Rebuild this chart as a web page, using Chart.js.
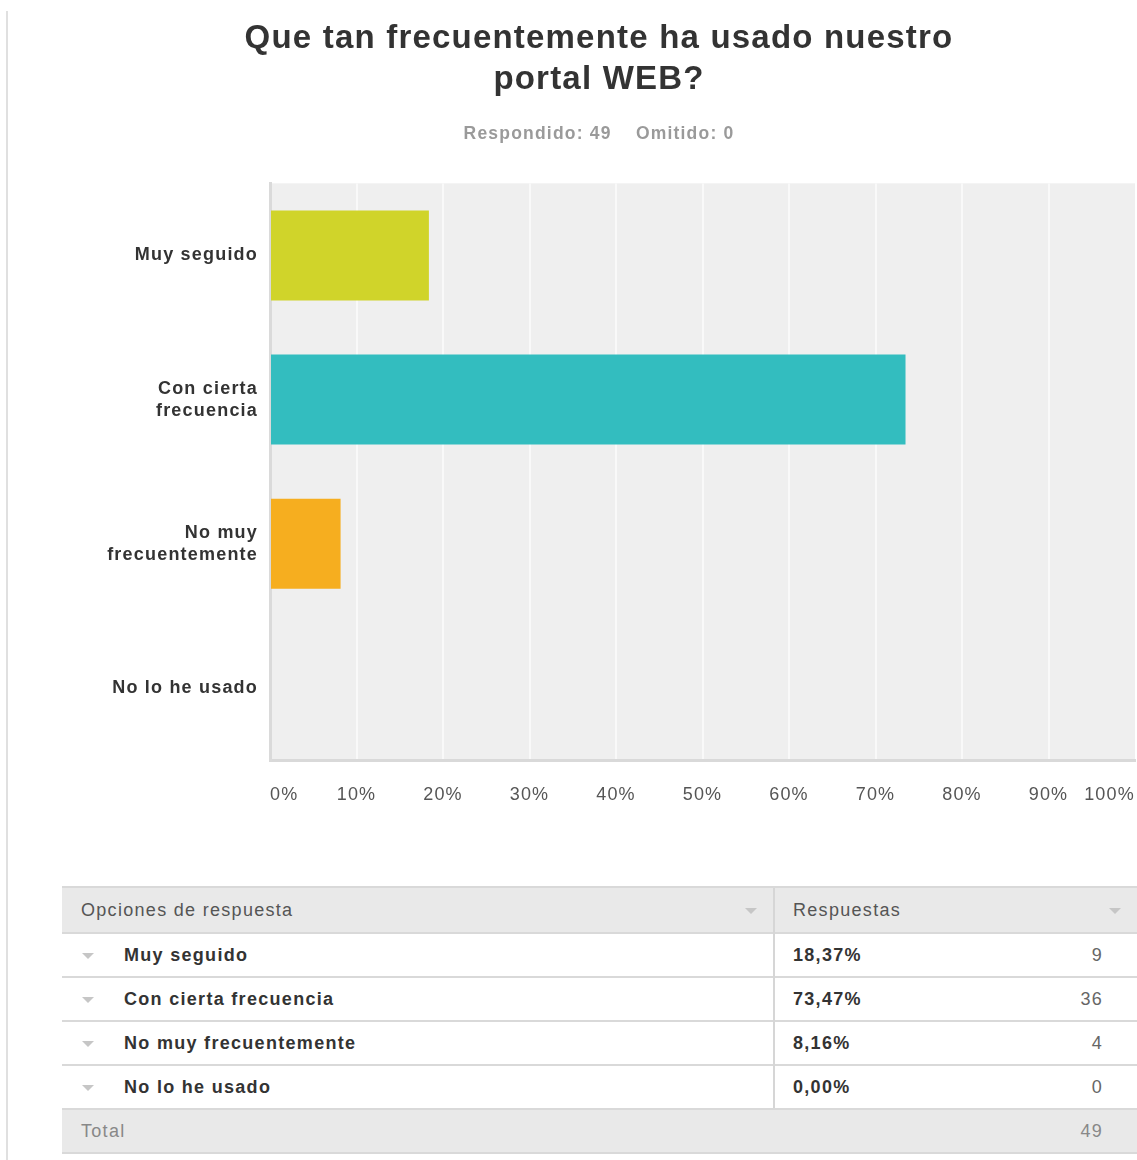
<!DOCTYPE html>
<html>
<head>
<meta charset="utf-8">
<title>Que tan frecuentemente ha usado nuestro portal WEB?</title>
<script src="https://cdn.jsdelivr.net/npm/chart.js@4.4.0/dist/chart.umd.min.js"></script>
<style>
  body {
    margin: 0;
    width: 1137px;
    height: 1160px;
    overflow: hidden;
    background: #fff;
    position: relative;
    font-family: "Liberation Sans", Arial, sans-serif;
  }
  .page-edge { position: absolute; left: 6px; top: 11px; bottom: 0; width: 2px; background: #e0e0e0; }
  #chartBox { position: absolute; left: 63px; top: 0; width: 1074px; height: 810px; }
  #results { position: absolute; left: 62px; top: 886px; width: 1075px; height: 268px; font-size: 18px; letter-spacing: 1.3px; }
  .row { position: absolute; left: 0; right: 0; box-sizing: border-box; border-top: 2px solid #d9d9d9; }
  .row span { position: absolute; top: 0; white-space: nowrap; }
  .head { background: #e9e9e9; color: #555; }
  .total { background: #e9e9e9; color: #888; border-bottom: 2px solid #d9d9d9; }
  .name { font-weight: bold; color: #333; }
  .pct { font-weight: bold; color: #333; }
  .num { color: #666; }
  .arrow { width: 0; height: 0; border-left: 6px solid transparent; border-right: 6px solid transparent; border-top: 6px solid #c6c6c6; }
  .divider { position: absolute; left: 711px; top: 2px; width: 2px; height: 220px; background: #d6d6d6; }
</style>
</head>
<body>
<div class="page-edge"></div>
<div id="chartBox"><canvas id="chart" width="1074" height="810"></canvas></div>
<div id="results"></div>

<script>
// survey question results
const answerOptions = ['Muy seguido', 'Con cierta frecuencia', 'No muy frecuentemente', 'No lo he usado'];
const axisLabels = [['Muy seguido'], ['Con cierta', 'frecuencia'], ['No muy', 'frecuentemente'], ['No lo he usado']];
const responsePercent = [18.37, 73.47, 8.16, 0.00];
const responseCount = [9, 36, 4, 0];
const barColors = ['#d0d42a', '#33bdbf', '#f6ae1f', '#ee6c2e'];
const answered = 49;
const skipped = 0;
const tickStep = 10;

const plotBackground = {
  id: 'plotBackground',
  beforeDraw(chart) {
    const { ctx, chartArea: a } = chart;
    ctx.save();
    ctx.fillStyle = '#efefef';
    ctx.fillRect(a.left, a.top, a.width, a.height);
    ctx.restore();
    ctx.letterSpacing = '1.2px';
  }
};

new Chart(document.getElementById('chart'), {
  type: 'bar',
  data: {
    labels: axisLabels,
    datasets: [{
      data: responsePercent,
      backgroundColor: barColors,
      borderWidth: 0,
      barPercentage: 0.624,
      categoryPercentage: 1
    }]
  },
  options: {
    indexAxis: 'y',
    responsive: false,
    animation: false,
    devicePixelRatio: 1,
    layout: { autoPadding: false, padding: { left: 0, right: 2, top: 0, bottom: 0 } },
    plugins: {
      legend: { display: false },
      tooltip: { enabled: false },
      title: {
        display: true,
        text: ['Que tan frecuentemente ha usado nuestro', 'portal WEB?'],
        color: '#333',
        font: { family: '"Liberation Sans", Arial, sans-serif', size: 33, weight: 'bold', lineHeight: 41 / 33 },
        padding: { top: 18.5, bottom: 24 }
      },
      subtitle: {
        display: true,
        text: 'Respondido: ' + answered + '    Omitido: ' + skipped,
        color: '#9a9a9a',
        font: { family: '"Liberation Sans", Arial, sans-serif', size: 17.5, weight: 'bold', lineHeight: 1.1 },
        padding: { top: 0, bottom: 39.6 }
      }
    },
    scales: {
      x: {
        min: 0,
        max: 100,
        afterFit: s => {
          s.height = 50;
          // end labels sit inside the axis, so no side room is needed
          s.paddingLeft = 0;
          s.paddingRight = 0;
        },
        ticks: {
          stepSize: tickStep,
          align: 'inner',
          padding: 24,
          color: '#555',
          font: { family: '"Liberation Sans", Arial, sans-serif', size: 18 },
          callback: v => v + '%'
        },
        grid: {
          drawTicks: false,
          lineWidth: 2,
          color: c => (c.index === 0 || c.index === 100 / tickStep) ? 'rgba(0,0,0,0)' : '#f9f9f9'
        },
        border: { color: '#d9d9d9', width: 3 }
      },
      y: {
        afterFit: s => { s.width = 207; },
        ticks: {
          padding: 4,
          color: '#333',
          font: { family: '"Liberation Sans", Arial, sans-serif', size: 18, weight: 'bold', lineHeight: 22 / 18 }
        },
        grid: { display: false },
        border: { color: '#dadada', width: 3 }
      }
    }
  },
  plugins: [plotBackground]
});

// answer table under the chart
const results = document.getElementById('results');
const fmt = v => v.toFixed(2).replace('.', ',') + '%';

function addRow(cls, top, height, cells) {
  const row = document.createElement('div');
  row.className = 'row ' + cls;
  row.style.top = top + 'px';
  row.style.height = height + 'px';
  cells.forEach(c => {
    const s = document.createElement('span');
    if (c.cls) s.className = c.cls;
    if (c.text !== undefined) s.textContent = c.text;
    Object.assign(s.style, c.style);
    row.appendChild(s);
  });
  results.appendChild(row);
}

const lh = h => ({ lineHeight: h + 'px' });
addRow('head', 0, 46, [
  { text: 'Opciones de respuesta', style: { left: '19px', ...lh(44) } },
  { cls: 'arrow', style: { left: '683px', top: '20px' } },
  { text: 'Respuestas', style: { left: '731px', ...lh(44) } },
  { cls: 'arrow', style: { left: '1047px', top: '20px' } }
]);
answerOptions.forEach((name, i) => {
  addRow('', 46 + i * 44, 44, [
    { cls: 'arrow', style: { left: '20px', top: '19px' } },
    { cls: 'name', text: name, style: { left: '62px', ...lh(42) } },
    { cls: 'pct', text: fmt(responsePercent[i]), style: { left: '731px', ...lh(42) } },
    { cls: 'num', text: String(responseCount[i]), style: { right: '34px', ...lh(42) } }
  ]);
});
addRow('total', 222, 46, [
  { text: 'Total', style: { left: '19px', ...lh(42) } },
  { text: String(responseCount.reduce((a, b) => a + b, 0)), style: { right: '34px', ...lh(42) } }
]);
const divider = document.createElement('div');
divider.className = 'divider';
results.appendChild(divider);
</script>
</body>
</html>
